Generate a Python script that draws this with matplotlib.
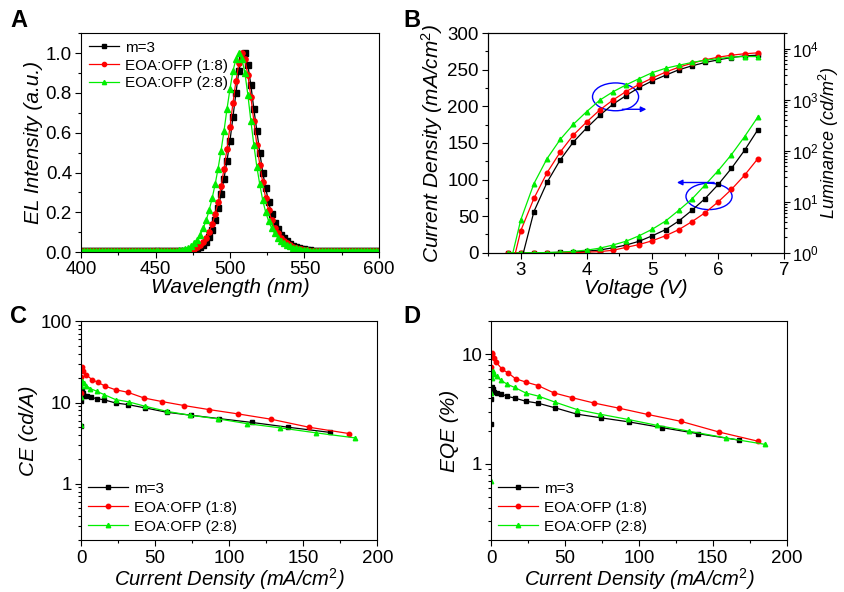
import numpy as np
import matplotlib
matplotlib.use('Agg')
import matplotlib.pyplot as plt
from matplotlib.patches import Ellipse
from matplotlib.ticker import MultipleLocator, LogLocator, NullFormatter

plt.rcParams['font.family'] = ['Liberation Sans', 'DejaVu Sans']
plt.rcParams['mathtext.fontset'] = 'custom'
plt.rcParams['mathtext.rm'] = 'Liberation Sans'
plt.rcParams['mathtext.it'] = 'Liberation Sans:italic'

labels = ['m=3', 'EOA:OFP (1:8)', 'EOA:OFP (2:8)']
colors = ['black', 'red', '#00ee00']
markers = ['s', 'o', '^']

# --- A: EL spectra (sampled every 2 nm) ---
wavelength = np.arange(400, 601, 2)
el_black = [
    .004, .004, .004, .004, .004, .004, .004, .004, .004, .004,
    .004, .004, .004, .004, .004, .004, .004, .004, .004, .004,
    .004, .004, .004, .004, .004, .004, .004, .004, .004, .004,
    .004, .004, .005, .005, .006, .007, .008, .010, .013, .018,
    .025, .036, .053, .078, .113, .16, .22, .29, .37, .46,
    .56, .68, .80, .91, .98, 1.00, .94, .84, .72, .61,
    .50, .40, .32, .25, .19, .148, .114, .088, .069, .054,
    .042, .033, .026, .021, .017, .014, .011, .009, .008, .007,
    .006, .005, .005, .004, .004, .004, .004, .004, .004, .004,
    .004, .004, .004, .004, .004, .004, .004, .004, .004, .004,
    .004]
el_red = [
    .004, .004, .004, .004, .004, .004, .004, .004, .004, .004,
    .004, .004, .004, .004, .004, .004, .004, .004, .004, .004,
    .004, .004, .004, .004, .004, .004, .004, .004, .004, .004,
    .004, .004, .005, .006, .007, .008, .010, .013, .018, .025,
    .035, .050, .072, .10, .14, .19, .25, .33, .42, .52,
    .63, .75, .86, .95, 1.00, .97, .89, .78, .66, .54,
    .44, .35, .27, .21, .16, .122, .094, .072, .056, .044,
    .035, .028, .022, .018, .014, .011, .009, .008, .007, .006,
    .005, .005, .004, .004, .004, .004, .004, .004, .004, .004,
    .004, .004, .004, .004, .004, .004, .004, .004, .004, .004,
    .004]
el_green = [
    .004, .004, .004, .004, .004, .004, .004, .004, .004, .004,
    .004, .004, .004, .004, .004, .004, .004, .004, .004, .004,
    .004, .004, .004, .004, .004, .004, .004, .004, .005, .005,
    .006, .007, .008, .010, .013, .017, .023, .032, .045, .063,
    .088, .12, .16, .21, .27, .34, .42, .51, .61, .72,
    .82, .91, .97, 1.00, .97, .90, .79, .66, .54, .43,
    .34, .26, .20, .155, .12, .094, .073, .057, .045, .036,
    .029, .023, .019, .015, .012, .010, .009, .008, .007, .006,
    .005, .005, .004, .004, .004, .004, .004, .004, .004, .004,
    .004, .004, .004, .004, .004, .004, .004, .004, .004, .004,
    .004]

# --- B: J-V-L ---
voltage = [2.8, 3.0, 3.2, 3.4, 3.6, 3.8, 4.0, 4.2, 4.4, 4.6,
           4.8, 5.0, 5.2, 5.4, 5.6, 5.8, 6.0, 6.2, 6.4, 6.6]
j_black = [0, 0.01, 0.05, 0.2, 0.6, 1.2, 2.2, 3.8, 6.8, 10.6,
           15.8, 23.3, 31.6, 43.4, 58, 74.1, 93.3, 115.3, 140, 167.9]
j_red = [0, 0, 0, 0.02, 0.1, 0.3, 0.8, 1.6, 3.4, 7.4,
         11.3, 16.5, 23.3, 31.6, 42.5, 54.7, 69.6, 86.5, 106, 128.4]
j_green = [0, 0.02, 0.1, 0.3, 0.9, 2.0, 3.6, 6.3, 10.6, 15.8,
           23.3, 32.3, 43.4, 58, 73.4, 92.6, 112.3, 134, 158.7, 185.3]
lum_black = [0.1, 0.63, 6.4, 24, 66, 148, 277, 492, 810, 1200,
             1730, 2330, 3000, 3830, 4580, 5330, 6000, 6660, 7200, 7400]
lum_red = [0.23, 2.7, 11.6, 37, 94, 203, 363, 627, 980, 1440,
           1990, 2650, 3450, 4300, 5150, 6000, 6770, 7400, 7900, 8230]
lum_green = [0.37, 4.4, 22.6, 70, 166, 329, 580, 975, 1420, 1940,
             2580, 3380, 4100, 4700, 5330, 5900, 6340, 6800, 6960, 6960]

# --- C/D: efficiency vs current density ---
cd_black = [0.01, 0.05, 0.2, 0.6, 1.2, 2.2, 3.8, 6.8, 10.6, 15.8,
            23.3, 31.6, 43.4, 58, 74.1, 93.3, 115.3, 140, 167.9]
cd_red = [0.02, 0.1, 0.3, 0.8, 1.6, 3.4, 7.4, 11.3, 16.5, 23.3,
          31.6, 42.5, 54.7, 69.6, 86.5, 106, 128.4, 154, 180.8]
cd_green = [0.02, 0.1, 0.3, 0.9, 2.0, 3.6, 6.3, 10.6, 15.8, 23.3,
            32.3, 43.4, 58, 73.4, 92.6, 112.3, 134, 158.7, 185.3]
ce_black = [5.1, 10.6, 12.5, 13.8, 13.0, 12.2, 12.0, 11.6, 11.2, 10.8,
            9.9, 9.45, 8.6, 7.6, 7.0, 6.35, 5.7, 4.97, 4.3]
ce_red = [13.3, 20.5, 26.5, 27.5, 24.3, 22.1, 19.2, 17.8, 15.9, 14.4,
          13.4, 11.4, 10.3, 9.2, 8.2, 7.26, 6.24, 4.97, 4.16]
ce_green = [5.3, 11.6, 15.8, 18.3, 17.4, 16.2, 14.9, 13.8, 12.5, 10.9,
            10.2, 9.0, 7.8, 7.0, 6.3, 5.5, 4.9, 4.24, 3.67]
eqe_black = [2.3, 3.9, 4.6, 5.0, 4.8, 4.5, 4.45, 4.35, 4.15, 4.0,
             3.74, 3.59, 3.25, 2.85, 2.64, 2.42, 2.15, 1.89, 1.65]
eqe_red = [7.7, 9.6, 10.3, 10.0, 9.2, 8.5, 7.3, 6.8, 6.0, 5.6,
           5.2, 4.45, 4.03, 3.6, 3.23, 2.83, 2.45, 1.96, 1.61]
eqe_green = [0.7, 4.4, 6.1, 7.0, 6.6, 6.3, 5.86, 5.36, 5.0, 4.45,
             4.15, 3.66, 3.14, 2.85, 2.55, 2.25, 1.99, 1.73, 1.51]

TICK = 13.5
LABEL = 15


def style(ax):
    ax.tick_params(which='both', direction='out', labelsize=TICK, width=0.8, pad=2.5)
    ax.tick_params(which='major', length=4)
    ax.tick_params(which='minor', length=2.5)
    for s in ax.spines.values():
        s.set_linewidth(0.8)


fig = plt.figure(figsize=(8.44, 5.92), dpi=100)

# Panel A
axA = fig.add_axes([0.096, 0.574, 0.353, 0.370])
for y, c, m, lab in zip([el_black, el_red, el_green], colors, markers, labels):
    axA.plot(wavelength, y, color=c, marker=m, markersize=3.8, lw=0.9, label=lab)
axA.set_xlim(400, 600)
axA.set_ylim(0, 1.1)
axA.xaxis.set_major_locator(MultipleLocator(50))
axA.xaxis.set_minor_locator(MultipleLocator(25))
axA.yaxis.set_major_locator(MultipleLocator(0.2))
axA.yaxis.set_minor_locator(MultipleLocator(0.1))
axA.set_xlabel('Wavelength (nm)', fontsize=LABEL, style='italic', labelpad=0)
axA.set_ylabel('EL Intensity (a.u.)', fontsize=LABEL, style='italic', labelpad=2)
style(axA)
axA.legend(loc='upper left', frameon=False, fontsize=11, handlelength=2.0,
           labelspacing=0.25, borderaxespad=0.1, handletextpad=0.35,
           markerscale=0.8)

# Panel B
axB = fig.add_axes([0.578, 0.573, 0.351, 0.371])
axB2 = axB.twinx()
for j, lum, c, m in zip([j_black, j_red, j_green], [lum_black, lum_red, lum_green],
                        colors, markers):
    axB.plot(voltage, j, color=c, marker=m, markersize=3.3, lw=0.9)
    axB2.plot(voltage, lum, color=c, marker=m, markersize=3.3, lw=0.9)
axB.set_xlim(2.5, 7)
axB.set_ylim(0, 300)
axB.xaxis.set_major_locator(MultipleLocator(1))
axB.xaxis.set_minor_locator(MultipleLocator(0.5))
axB.yaxis.set_major_locator(MultipleLocator(50))
axB.yaxis.set_minor_locator(MultipleLocator(25))
axB2.set_yscale('log')
axB2.set_ylim(1, 2e4)
axB2.yaxis.set_major_locator(LogLocator(base=10, numticks=10))
axB2.yaxis.set_minor_locator(LogLocator(base=10, subs=np.arange(2, 10), numticks=10))
axB2.yaxis.set_minor_formatter(NullFormatter())
axB.set_xlabel('Voltage (V)', fontsize=LABEL, style='italic', labelpad=0)
axB.set_ylabel('Current Density (mA/cm$^2$)', fontsize=LABEL, style='italic', labelpad=2)
style(axB)
style(axB2)
axB2.tick_params(axis='y', pad=1.5, labelsize=12)
axB2.set_ylabel('Luminance (cd/m$^2$)', fontsize=13, style='italic')
axB2.yaxis.set_label_coords(1.11, 0.5)
axB.add_patch(Ellipse((4.44, 213), 0.70, 38, fill=False, color='blue', lw=1))
axB.add_patch(Ellipse((5.86, 77), 0.70, 36, fill=False, color='blue', lw=1))
axB.annotate('', xy=(4.95, 196), xytext=(4.50, 196),
             arrowprops=dict(arrowstyle='-|>', color='blue', lw=1, mutation_scale=8))
axB.annotate('', xy=(5.33, 96), xytext=(5.98, 96),
             arrowprops=dict(arrowstyle='-|>', color='blue', lw=1, mutation_scale=8))

# Panel C and D
axC = fig.add_axes([0.096, 0.087, 0.351, 0.370])
axD = fig.add_axes([0.582, 0.087, 0.350, 0.370])
cds = [cd_black, cd_red, cd_green]
for ax, ys, ylab, ylim in [(axC, [ce_black, ce_red, ce_green], 'CE (cd/A)', (0.2, 100)),
                           (axD, [eqe_black, eqe_red, eqe_green], 'EQE (%)', (0.2, 20))]:
    for x, y, c, m, lab in zip(cds, ys, colors, markers, labels):
        ax.plot(x, y, color=c, marker=m, markersize=3.2, lw=0.9, label=lab)
    ax.set_yscale('log')
    ax.set_ylim(*ylim)
    ax.set_xlim(0, 200)
    ax.xaxis.set_major_locator(MultipleLocator(50))
    ax.xaxis.set_minor_locator(MultipleLocator(25))
    ax.yaxis.set_major_locator(LogLocator(base=10, numticks=10))
    ax.yaxis.set_minor_locator(LogLocator(base=10, subs=np.arange(2, 10), numticks=10))
    ax.yaxis.set_minor_formatter(NullFormatter())
    ax.yaxis.set_major_formatter(plt.FuncFormatter(lambda v, p: '%g' % v))
    ax.set_xlabel('Current Density (mA/cm$^2$)', fontsize=14.5, style='italic', labelpad=0)
    ax.set_ylabel(ylab, fontsize=LABEL, style='italic', labelpad=2)
    style(ax)
    ax.legend(loc='lower left', frameon=False, fontsize=11, handlelength=2.6,
              labelspacing=0.32, borderaxespad=0.05, handletextpad=0.4)

for txt, x, y in [('A', 0.012, 0.955), ('B', 0.478, 0.955), ('C', 0.012, 0.455), ('D', 0.478, 0.455)]:
    fig.text(x, y, txt, fontsize=17, fontweight='bold')

fig.savefig('out.png', dpi=100)
